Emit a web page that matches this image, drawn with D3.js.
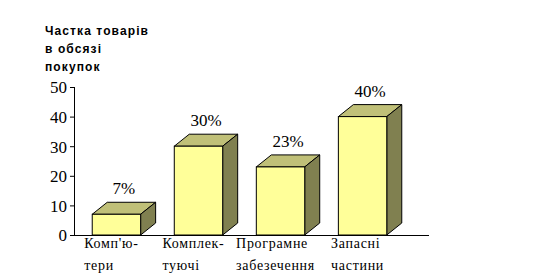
<!DOCTYPE html>
<html>
<head>
<meta charset="utf-8">
<script src="https://cdn.jsdelivr.net/npm/d3@7"></script>
<style>
  body { margin: 0; background: #fff; }
  svg { display: block; }
</style>
</head>
<body>
<svg id="chart"></svg>
<script>
// дані
const categories = ["Комп'ю-\nтери", "Комплек-\nтуючі", "Програмне\nзабезечення", "Запасні\nчастини"];
const values = [7, 30, 23, 40];
const valueLabels = ["7%", "30%", "23%", "40%"];
const yTicks = [0, 10, 20, 30, 40, 50];
const titleLines = ["Частка товарів", "в обсязі", "покупок"];

const width = 534, height = 280;
const depthX = 15, depthY = 12;

const svg = d3.select("#chart").attr("width", width).attr("height", height);

const x = d3.scaleBand().domain(categories).range([75, 404]).paddingInner(0.41).paddingOuter(0.21);
const y = d3.scaleLinear().domain([0, 50]).range([235, 87]);

// заголовок осі
svg.append("text")
    .attr("x", 45).attr("y", 35)
    .attr("font-family", "Arial, 'Liberation Sans', sans-serif")
    .attr("font-size", "12px").attr("font-weight", "bold")
    .attr("letter-spacing", "1.1px")
    .selectAll("tspan")
    .data(titleLines)
    .enter().append("tspan")
    .attr("x", 45)
    .attr("dy", (d, i) => i === 0 ? 0 : 18)
    .text(d => d);

// вісь Y
const yAxis = svg.append("g")
    .attr("transform", "translate(75,0)")
    .call(d3.axisLeft(y).tickValues(yTicks).tickSize(5).tickPadding(3));
yAxis.select(".domain").attr("d", `M-0.5,${y(0)}V${y(50)}`).attr("stroke", "#000");
yAxis.selectAll("line").attr("stroke", "#000");
yAxis.selectAll("text")
    .attr("font-family", "'Times New Roman', 'Liberation Serif', serif")
    .attr("font-size", "17px").attr("fill", "#000")
    .attr("dy", "0.35em");

// бари
const bar = svg.selectAll(".bar")
    .data(values)
    .enter().append("g")
    .attr("class", "bar");

bar.append("path")   // верх
    .attr("d", (d, i) => {
        const x0 = x(categories[i]), x1 = x0 + x.bandwidth(), yt = y(d);
        return `M${x0},${yt}L${x0 + depthX},${yt - depthY}L${x1 + depthX},${yt - depthY}L${x1},${yt}Z`;
    })
    .attr("fill", "#c0c078").attr("stroke", "#000").attr("stroke-width", 1);

bar.append("path")   // бік
    .attr("d", (d, i) => {
        const x1 = x(categories[i]) + x.bandwidth(), yt = y(d), yb = y(0);
        return `M${x1},${yt}L${x1 + depthX},${yt - depthY}L${x1 + depthX},${yb - depthY}L${x1},${yb}Z`;
    })
    .attr("fill", "#808050").attr("stroke", "#000").attr("stroke-width", 1);

bar.append("rect")   // фронт
    .attr("x", (d, i) => x(categories[i]))
    .attr("y", d => y(d))
    .attr("width", x.bandwidth())
    .attr("height", d => y(0) - y(d))
    .attr("fill", "#ffff99").attr("stroke", "#000").attr("stroke-width", 1);

// вісь X
svg.append("line")
    .attr("x1", 75).attr("x2", 429)
    .attr("y1", y(0) + 0.5).attr("y2", y(0) + 0.5)
    .attr("stroke", "#000");

// підписи значень
svg.selectAll(".value-label")
    .data(values)
    .enter().append("text")
    .attr("class", "value-label")
    .attr("x", (d, i) => x(categories[i]) + x.bandwidth() / 2 + depthX / 2)
    .attr("y", d => y(d) - depthY - 8)
    .attr("text-anchor", "middle")
    .attr("font-family", "'Times New Roman', 'Liberation Serif', serif")
    .attr("font-size", "17px")
    .text((d, i) => valueLabels[i]);

// підписи категорій
const catLabel = svg.selectAll(".cat-label")
    .data(categories)
    .enter().append("text")
    .attr("class", "cat-label")
    .attr("y", 248)
    .attr("font-family", "'Times New Roman', 'Liberation Serif', serif")
    .attr("font-size", "14px")
    .attr("letter-spacing", "0.7px");

catLabel.selectAll("tspan")
    .data(d => d.split("\n"))
    .enter().append("tspan")
    .attr("x", 0)
    .attr("dy", (d, i) => i === 0 ? 0 : 22)
    .text(d => d);

// блок рядків вирівняний ліворуч, центрований під баром
catLabel.each(function(d) {
    const w = this.getBBox().width;
    const left = x(d) + x.bandwidth() / 2 - w / 2 - 5;
    d3.select(this).selectAll("tspan").attr("x", left);
});
</script>
</body>
</html>
